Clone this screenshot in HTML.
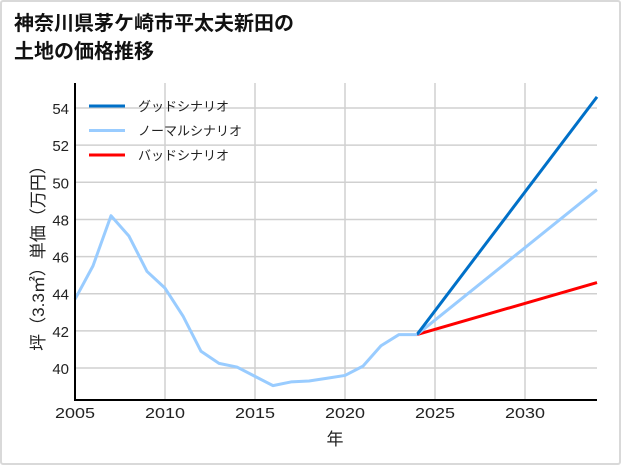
<!DOCTYPE html>
<html><head><meta charset="utf-8"><style>
body{margin:0;background:#fff}
#wrap{position:relative;width:621px;height:465px;box-sizing:border-box;border:2px solid #d9d9d9;border-radius:3px;background:#fff;overflow:hidden}
text{font-family:"Liberation Sans","Noto Sans CJK JP",sans-serif}
</style></head><body>
<div id="wrap">
<svg id="chart" width="621" height="465" style="position:absolute;left:-2px;top:-2px">
<text x="14" y="30" font-size="20" font-weight="bold" fill="#111">神奈川県茅ケ崎市平太夫新田の</text>
<text x="14" y="58" font-size="20" font-weight="bold" fill="#111">土地の価格推移</text>
<g id="grid"></g><g id="series"></g><g id="axes"></g><g id="legend"></g>
<text x="335" y="445" font-size="17" text-anchor="middle" fill="#222">年</text>
<text transform="translate(44,254) rotate(-90)" font-size="17" text-anchor="middle" fill="#222">坪（3.3㎡）単価（万円）</text>
</svg></div>
<script>
const years=[2005,2006,2007,2008,2009,2010,2011,2012,2013,2014,2015,2016,2017,2018,2019,2020,2021,2022,2023,2024];
const history=[43.7,45.5,48.2,47.1,45.2,44.3,42.8,40.9,40.25,40.05,39.55,39.05,39.25,39.3,39.45,39.6,40.1,41.2,41.8,41.8];
const scenarioYears=[2024,2034];
const goodValues=[41.8,54.6];
const normalValues=[41.8,49.6];
const badValues=[41.8,44.6];
const xTicks=[2005,2010,2015,2020,2025,2030];
const yTicks=[40,42,44,46,48,50,52,54];
const NS='http://www.w3.org/2000/svg';
const L=75,R=597,T=83,B=400;
const x=v=>L+(v-2005)*(R-L)/29;
const y=v=>368-(v-40)*18.57;
function mk(p,tag,a){const e=document.createElementNS(NS,tag);for(const k in a)e.setAttribute(k,a[k]);document.getElementById(p).appendChild(e);return e;}
xTicks.forEach(t=>{
 const g=mk('grid','line',{x1:x(t),x2:x(t),y1:T,y2:B,stroke:'#d0d0d0','stroke-width':1.5});
 
 
 const tx=mk('axes','text',{x:x(t),y:B+18,'font-size':15,'text-anchor':'middle',fill:'#222',textLength:40,lengthAdjust:'spacingAndGlyphs'});tx.textContent=t;
 
 
});
yTicks.forEach(t=>{
 const g=mk('grid','line',{x1:L,x2:R,y1:y(t),y2:y(t),stroke:'#d0d0d0','stroke-width':1.5});
 
 
 const tx=mk('axes','text',{x:L-6,y:y(t)+6,'font-size':15,'text-anchor':'end',fill:'#222'});tx.textContent=t;
 
 
});
const ax=mk('axes','path',{d:`M${L},${T}V${B}H${R}`,fill:'none',stroke:'#000','stroke-width':2});


function line(xs,vs,c,name){
 const p=mk('series','polyline',{points:xs.map((a,i)=>x(a)+','+y(vs[i])).join(' '),fill:'none',stroke:c,'stroke-width':3,'stroke-linejoin':'round'});
 
 
}
line(scenarioYears,badValues,'#ff0000','bad-scenario-line');
line(scenarioYears,normalValues,'#99ccff','normal-scenario-line');
line(scenarioYears,goodValues,'#0070c8','good-scenario-line');
line(years,history,'#99ccff','history-line');
[['グッドシナリオ','#0070c8'],['ノーマルシナリオ','#99ccff'],['バッドシナリオ','#ff0000']].forEach((e,i)=>{
 const yy=106+i*24.5;
 const l=mk('legend','line',{x1:89,x2:125,y1:yy,y2:yy,stroke:e[1],'stroke-width':3});
 
 
 const t=mk('legend','text',{x:138,y:yy+5,'font-size':13,fill:'#222'});t.textContent=e[0];
 
 
});
</script>
</body></html>
